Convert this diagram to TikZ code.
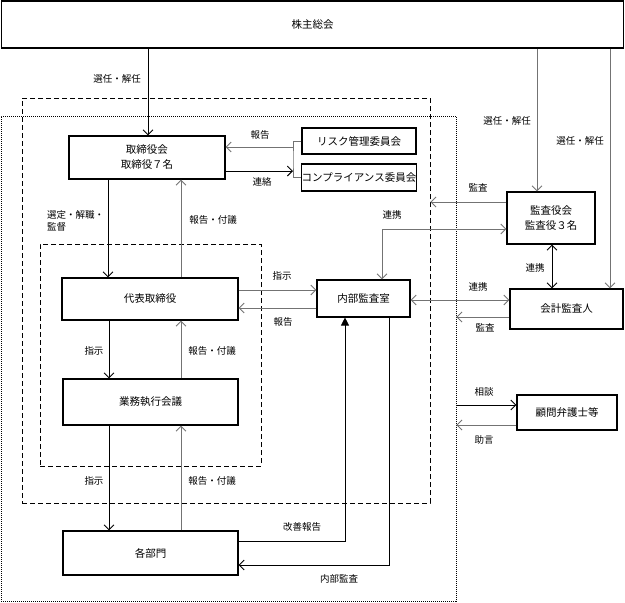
\documentclass[tikz,border=0pt]{standalone}
\usepackage{fontspec}
\setmainfont{Noto Sans CJK JP}
\usetikzlibrary{arrows.meta}
\begin{document}
\begin{tikzpicture}[x=1pt,y=-1pt,
  box/.style={draw,line width=1.1pt,fill=white,inner sep=0pt,align=center,font=\fontsize{10.5}{15}\selectfont},
  lbl/.style={inner sep=0pt,align=left,font=\fontsize{9.5}{12}\selectfont},
  dashframe/.style={draw,line width=0.9pt,dash pattern=on 5pt off 3pt,inner sep=0pt},
  dotframe/.style={draw,line width=0.9pt,dash pattern=on 1pt off 1pt,inner sep=0pt},
  tip/.tip={Straight Barb[length=5pt,width=10pt,line width=0.9pt]},
  arr/.style={line width=0.8pt,-tip},
  garr/.style={arr,draw=black!55},
  darr/.style={line width=0.8pt,tip-tip},
  gdarr/.style={darr,draw=black!55},
  gline/.style={line width=0.8pt,draw=black!55},
  tri/.style={line width=0.8pt,-{Triangle[length=8pt,width=8pt]}}
]
\useasboundingbox (0,0) rectangle (625,603);
% frames
\node[dotframe,minimum width=455pt,minimum height=485pt] (dotf) at (228.5,358.5) {};
\node[dashframe,minimum width=408pt,minimum height=405pt] (outer) at (226,300.5) {};
\node[dashframe,minimum width=221pt,minimum height=222pt] (inner) at (150.5,355) {};
% boxes
\node[box,minimum width=622pt,minimum height=47pt] (kabu) at (312.5,24.5) {株主総会};
\node[box,minimum width=156pt,minimum height=43pt] (tori) at (147,157.5) {取締役会\\取締役７名};
\node[box,minimum width=114pt,minimum height=26pt] (risk) at (359,141) {リスク管理委員会};
\node[box,minimum width=114pt,minimum height=27pt] (comp) at (359,177.5) {コンプライアンス委員会};
\node[box,minimum width=176pt,minimum height=42pt] (dai) at (150,299) {代表取締役};
\node[box,minimum width=175pt,minimum height=46pt] (gyomu) at (150.5,402) {業務執行会議};
\node[box,minimum width=175pt,minimum height=44pt] (kakubu) at (150.5,553) {各部門};
\node[box,minimum width=93pt,minimum height=37pt] (naibu) at (363.5,298.5) {内部監査室};
\node[box,minimum width=88pt,minimum height=52pt] (kansa) at (551,218) {監査役会\\監査役３名};
\node[box,minimum width=113pt,minimum height=40pt] (kaikei) at (566.5,309) {会計監査人};
\node[box,minimum width=100pt,minimum height=35pt] (komon) at (567,412.5) {顧問弁護士等};
% connectors
\draw[arr] (kabu.south -| 148,0) -- (tori.north -| 148,0);
\draw[gline] (kabu.south -| 537,0) -- (537,120);
\draw[garr] (537,120) -- (kansa.north -| 537,0);
\draw[gline] (kabu.south -| 610,0) -- (610,200);
\draw[garr] (610,200) -- (kaikei.north -| 610,0);
\draw[arr] (tori.south -| 108,0) -- (dai.north -| 108,0);
\draw[garr] (dai.north -| 181,0) -- (tori.south -| 181,0);
\draw[arr] (dai.south -| 109,0) -- (gyomu.north -| 109,0);
\draw[garr] (gyomu.north -| 181,0) -- (dai.south -| 181,0);
\draw[arr] (gyomu.south -| 109,0) -- (kakubu.north -| 109,0);
\draw[garr] (kakubu.north -| 181,0) -- (gyomu.south -| 181,0);
\coordinate (br) at (293,160);
\draw[gline] (risk.west) -| (br) |- (comp.west);
\draw[garr] (br |- 0,147) -- (tori.east |- 0,147);
\draw[arr] (tori.east |- 0,171) -- (br |- 0,171);
\draw[garr] (dai.east |- 0,290) -- (naibu.west |- 0,290);
\draw[garr] (naibu.west |- 0,308) -- (dai.east |- 0,308);
\draw[tri] (kakubu.east |- 0,541) -| (naibu.south -| 345,0);
\draw[arr] (naibu.south -| 389,0) |- (kakubu.east |- 0,565);
\draw[gdarr] (naibu.north -| 382,0) |- (kansa.west |- 0,229);
\draw[gdarr] (naibu.east |- 0,300) -- (kaikei.west |- 0,300);
\draw[darr] (kansa.south -| 552,0) -- (kaikei.north -| 552,0);
\draw[garr] (kansa.west |- 0,202) -- (outer.east |- 0,202);
\draw[garr] (kaikei.west |- 0,317) -- (dotf.east |- 0,317);
\draw[arr] (dotf.east |- 0,405) -- (komon.west |- 0,405);
\draw[garr] (komon.west |- 0,425) -- (dotf.east |- 0,425);
% labels
\node[lbl] (l1) at (117,79) {選任・解任};
\node[lbl] (l2) at (507,121) {選任・解任};
\node[lbl] (l3) at (580,141) {選任・解任};
\node[lbl] (l4) at (260,135) {報告};
\node[lbl] (l5) at (262,182) {連絡};
\node[lbl,anchor=west] (l6) at (47,221) {選定・解職・\\監督};
\node[lbl] (l7) at (213,220) {報告・付議};
\node[lbl] (l8) at (94,351) {指示};
\node[lbl] (l9) at (212,351) {報告・付議};
\node[lbl] (l10) at (94,481) {指示};
\node[lbl] (l11) at (212,481) {報告・付議};
\node[lbl] (l12) at (282,276) {指示};
\node[lbl] (l13) at (283,322) {報告};
\node[lbl] (l14) at (302,527) {改善報告};
\node[lbl] (l15) at (339,579) {内部監査};
\node[lbl] (l16) at (478,188) {監査};
\node[lbl] (l17) at (392,215) {連携};
\node[lbl] (l18) at (535,268) {連携};
\node[lbl] (l19) at (478,287) {連携};
\node[lbl] (l20) at (485,328) {監査};
\node[lbl] (l21) at (484,392) {相談};
\node[lbl] (l22) at (484,440) {助言};
\end{tikzpicture}
\end{document}
